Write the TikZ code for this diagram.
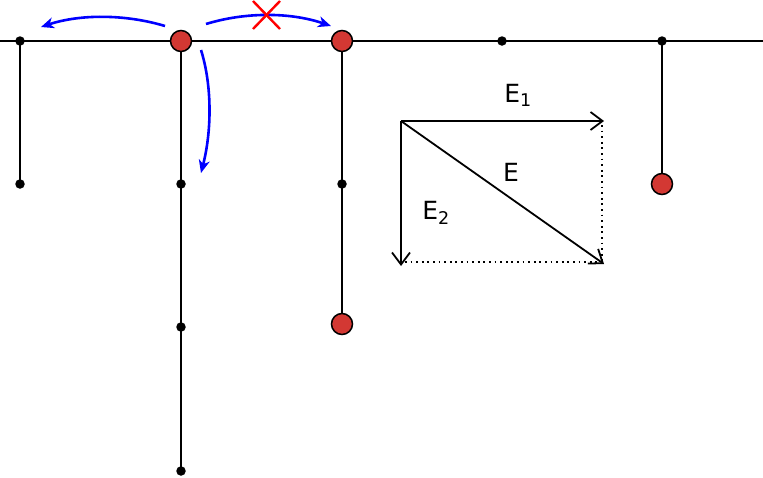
\documentclass[tikz,border=0pt]{standalone}
\usepackage{fontspec}
\setmainfont{DejaVu Sans}
\usetikzlibrary{arrows.meta}
\definecolor{pred}{RGB}{211,56,51}
\tikzset{
  wire/.style={line width=2pt, black},
  dotnode/.style={circle, fill=black, inner sep=0pt, minimum size=9.5pt},
  ball/.style={circle, draw=black, line width=1.5pt, fill=pred, inner sep=0pt, minimum size=21pt},
  move/.style={line width=2.6pt, blue, -{Stealth[length=13pt,width=11pt,inset=4pt]}},
  vec/.style={line width=1.8pt, -{Straight Barb[length=12pt,width=18pt,line width=1.8pt]}},
  guide/.style={line width=1.8pt, dash pattern=on 1.8pt off 3.8pt},
  lbl/.style={font=\fontsize{25}{25}\selectfont, inner sep=0pt}
}
\begin{document}
\begin{tikzpicture}[x=1pt,y=-1pt]
\useasboundingbox (0,0) rectangle (763,477);
\coordinate (L) at (0,41);
\coordinate (R) at (763,41);
\draw[wire] (L) -- (R);
\node[dotnode] (a0) at (20,41) {};
\node[dotnode] (a1) at (20,184) {};
\node[dotnode] (b1) at (181,184) {};
\node[dotnode] (b2) at (181,327) {};
\node[dotnode] (b3) at (181,471) {};
\node[dotnode] (c1) at (342,184) {};
\node[dotnode] (d0) at (502,41) {};
\node[dotnode] (e0) at (662,41) {};
\coordinate (b0) at (181,41);
\coordinate (c0) at (342,41);
\coordinate (c2) at (342,324);
\coordinate (e1) at (662,184);
\draw[wire] (a0.center) -- (a1.center);
\draw[wire] (b0) -- (b3.center);
\draw[wire] (c0) -- (c2);
\draw[wire] (e0.center) -- (e1);
\node[ball] (B0) at (b0) {};
\node[ball] (C0) at (c0) {};
\node[ball] (C2) at (c2) {};
\node[ball] (E1) at (e1) {};
% blue moves
\coordinate (m1s) at (165,26);
\coordinate (m1e) at (41,27);
\coordinate (m2s) at (206,24);
\coordinate (m2e) at (331,26);
\coordinate (m3s) at (201,50);
\coordinate (m3e) at (201,173);
\draw[move] (m1s) .. controls (125,14) and (80,14) .. (m1e);
\draw[move] (m2s) .. controls (245,12) and (290,12) .. (m2e);
\draw[move] (m3s) .. controls (212,85) and (212,130) .. (m3e);
% red cross
\coordinate (x1) at (253,1);
\coordinate (x2) at (280,29);
\coordinate (x3) at (253,29);
\coordinate (x4) at (280,1);
\draw[red, line width=2.4pt] (x1) -- (x2);
\draw[red, line width=2.4pt] (x3) -- (x4);
% vectors
\coordinate (O) at (401,121);
\coordinate (P1) at (604,121);
\coordinate (P2) at (401,266);
\coordinate (P) at (604,264);
\coordinate (Q1) at (602,262);
\coordinate (Q0) at (602,125);
\coordinate (Q2) at (405,262);
\draw[guide] (Q0) -- (Q1);
\draw[guide] (Q2) -- (Q1);
\draw[vec] (O) -- (P1);
\draw[vec] (O) -- (P2);
\draw[vec] (O) -- (P);
\node[lbl] (tE1) at (518,95) {E\textsubscript{1}};
\node[lbl] (tE) at (511,172) {E};
\node[lbl] (tE2) at (436,213) {E\textsubscript{2}};
\end{tikzpicture}
\end{document}
